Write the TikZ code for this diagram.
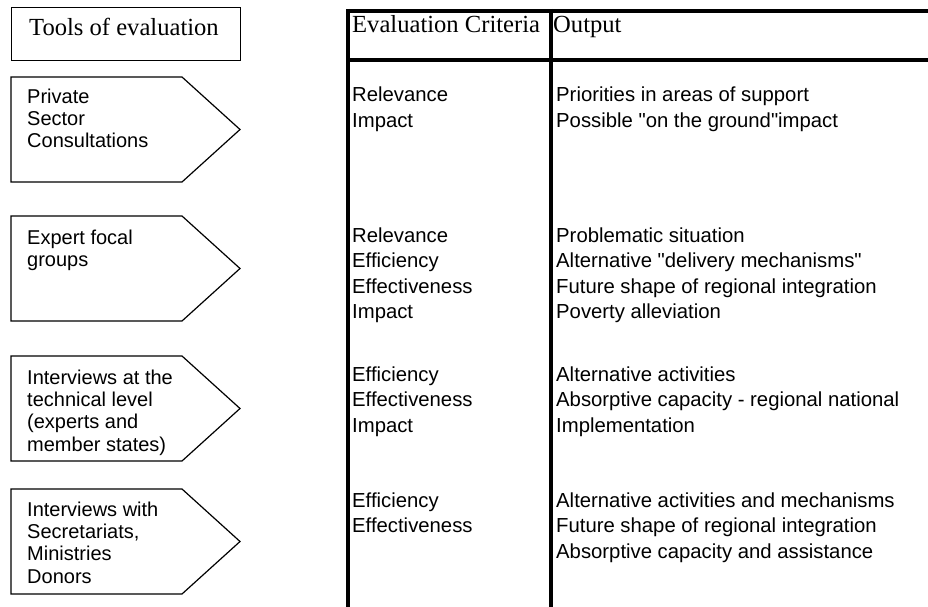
\documentclass[tikz,border=0pt]{standalone}
\usepackage{fontspec}
\setmainfont{Liberation Serif}
\setsansfont{Liberation Sans}[Ligatures=TeXOff]
\usetikzlibrary{positioning}

\tikzset{
  headtext/.style={font=\fontsize{24.6}{28}\selectfont,anchor=base west,inner sep=0pt},
  toolline/.style={font=\sffamily\fontsize{20}{22}\selectfont,anchor=base west,inner sep=0pt},
  cellline/.style={font=\sffamily\fontsize{20.3}{24}\selectfont,anchor=base west,inner sep=0pt},
  thinline/.style={line width=1.2pt},
  tablerule/.style={line width=4pt}
}

\begin{document}
\begin{tikzpicture}[x=1pt,y=-1pt]
\useasboundingbox (0,0) rectangle (928,607);

% left column: heading box and the four tool arrows
\node (toolsbox) [draw,thinline,anchor=north west,minimum width=229pt,minimum height=53pt,inner sep=0pt] at (11,7) {};
\node (toolshead) [headtext] at (29,36) {Tools of evaluation};
\foreach \top in {77,216,356,489}{
  \draw[thinline,line join=miter] (11,\top) -- (182,\top) -- (240,\top+52.5) -- (182,\top+105) -- (11,\top+105) -- cycle;
}
\foreach \b/\txt [count=\t] in {103/{Private,Sector,Consultations},
                                 244/{Expert focal,groups},
                                 384/{Interviews at the,technical level,{(experts and},member states)},
                                 516/{Interviews with,{Secretariats,},Ministries,Donors}}{
  \foreach \l [count=\i from 0] in \txt
    \node (tool\t-\i) [toolline] at (27,\b+22.4*\i) {\l};
}

% table frame
\draw[tablerule] (346,11) -- (928,11);
\draw[tablerule] (346,60) -- (928,60);
\draw[tablerule] (348,9) -- (348,607);
\draw[tablerule] (551,9) -- (551,607);
\node (crithead) [headtext] at (352,33) {Evaluation Criteria};
\node (outhead) [headtext] at (553,33) {Output};

% criteria per tool
\foreach \b/\txt [count=\t] in {102/{Relevance,Impact},
                                 242/{Relevance,Efficiency,Effectiveness,Impact},
                                 381/{Efficiency,Effectiveness,Impact},
                                 507/{Efficiency,Effectiveness}}{
  \foreach \l [count=\i from 0] in \txt
    \node (crit\t-\i) [cellline] at (352,\b+25.5*\i) {\l};
}

% outputs per tool
\foreach \b/\txt [count=\t] in {102/{Priorities in areas of support,Possible "on the ground"impact},
                                 242/{Problematic situation,Alternative "delivery mechanisms",Future shape of regional integration,Poverty alleviation},
                                 381/{Alternative activities,Absorptive capacity - regional national,Implementation},
                                 507/{Alternative activities and mechanisms,Future shape of regional integration,Absorptive capacity and assistance}}{
  \foreach \l [count=\i from 0] in \txt
    \node (out\t-\i) [cellline] at (556,\b+25.5*\i) {\l};
}
\end{tikzpicture}
\end{document}
